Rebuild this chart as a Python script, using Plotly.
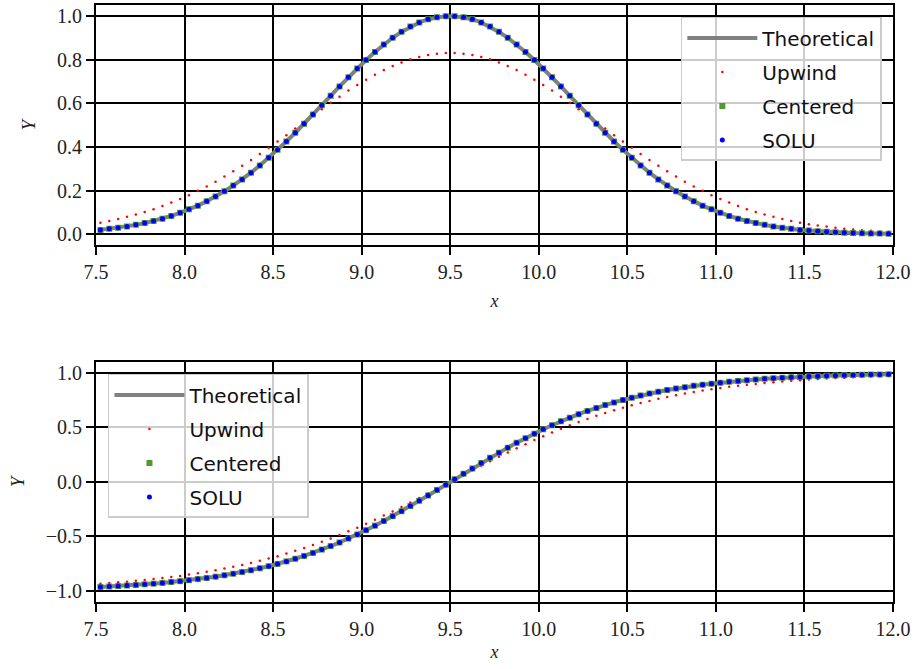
import numpy as np
import plotly.graph_objects as go
from plotly.subplots import make_subplots

# sample positions (cell centres, 0.05 apart)
x_pts = np.linspace(7.525, 11.975, 90)

# ---- top panel (pulse) ----
top_theoretical = [
    0.020, 0.025, 0.030, 0.036, 0.043, 0.051, 0.061, 0.071, 0.084, 0.098,
    0.114, 0.131, 0.151, 0.173, 0.197, 0.223, 0.251, 0.282, 0.315, 0.350,
    0.387, 0.425, 0.465, 0.506, 0.549, 0.591, 0.634, 0.677, 0.719, 0.759,
    0.798, 0.835, 0.869, 0.900, 0.927, 0.951, 0.970, 0.985, 0.994, 0.999,
    0.999, 0.994, 0.985, 0.970, 0.951, 0.927, 0.900, 0.869, 0.835, 0.798,
    0.759, 0.719, 0.677, 0.634, 0.591, 0.549, 0.506, 0.465, 0.425, 0.387,
    0.350, 0.315, 0.282, 0.251, 0.223, 0.197, 0.173, 0.151, 0.131, 0.114,
    0.098, 0.084, 0.071, 0.061, 0.051, 0.043, 0.036, 0.030, 0.025, 0.020,
    0.017, 0.014, 0.011, 0.009, 0.007, 0.006, 0.005, 0.004, 0.003, 0.002,
]
top_upwind = [
    0.053, 0.061, 0.070, 0.080, 0.090, 0.102, 0.115, 0.129, 0.145, 0.161,
    0.179, 0.199, 0.219, 0.241, 0.264, 0.289, 0.314, 0.340, 0.368, 0.396,
    0.425, 0.454, 0.484, 0.514, 0.544, 0.573, 0.602, 0.630, 0.658, 0.684,
    0.708, 0.731, 0.752, 0.771, 0.787, 0.801, 0.812, 0.821, 0.827, 0.830,
    0.830, 0.827, 0.821, 0.812, 0.801, 0.787, 0.771, 0.752, 0.731, 0.708,
    0.684, 0.658, 0.630, 0.602, 0.573, 0.544, 0.514, 0.484, 0.454, 0.425,
    0.396, 0.368, 0.340, 0.314, 0.289, 0.264, 0.241, 0.219, 0.199, 0.179,
    0.161, 0.145, 0.129, 0.115, 0.102, 0.090, 0.080, 0.070, 0.061, 0.053,
    0.046, 0.040, 0.035, 0.030, 0.025, 0.022, 0.018, 0.016, 0.013, 0.011,
]
top_centered = list(top_theoretical)
top_solu = list(top_theoretical)

# ---- bottom panel (step) ----
bot_theoretical = [
    -0.962, -0.958, -0.954, -0.949, -0.944, -0.938, -0.932, -0.925, -0.917, -0.909,
    -0.900, -0.890, -0.880, -0.868, -0.855, -0.841, -0.826, -0.809, -0.791, -0.772,
    -0.751, -0.728, -0.704, -0.678, -0.650, -0.620, -0.588, -0.555, -0.519, -0.482,
    -0.442, -0.401, -0.358, -0.314, -0.268, -0.221, -0.173, -0.124, -0.075, -0.025,
    0.025, 0.075, 0.124, 0.173, 0.221, 0.268, 0.314, 0.358, 0.401, 0.442,
    0.482, 0.519, 0.555, 0.588, 0.620, 0.650, 0.678, 0.704, 0.728, 0.751,
    0.772, 0.791, 0.809, 0.826, 0.841, 0.855, 0.868, 0.880, 0.890, 0.900,
    0.909, 0.917, 0.925, 0.932, 0.938, 0.944, 0.949, 0.954, 0.958, 0.962,
    0.965, 0.969, 0.972, 0.974, 0.977, 0.979, 0.981, 0.983, 0.984, 0.986,
]
bot_upwind = [
    -0.932, -0.927, -0.920, -0.914, -0.906, -0.898, -0.890, -0.881, -0.871, -0.861,
    -0.849, -0.837, -0.824, -0.810, -0.794, -0.778, -0.761, -0.742, -0.723, -0.702,
    -0.680, -0.656, -0.631, -0.605, -0.577, -0.548, -0.518, -0.486, -0.453, -0.419,
    -0.383, -0.346, -0.308, -0.270, -0.230, -0.189, -0.148, -0.106, -0.064, -0.021,
    0.021, 0.064, 0.106, 0.148, 0.189, 0.230, 0.270, 0.308, 0.346, 0.383,
    0.419, 0.453, 0.486, 0.518, 0.548, 0.577, 0.605, 0.631, 0.656, 0.680,
    0.702, 0.723, 0.742, 0.761, 0.778, 0.794, 0.810, 0.824, 0.837, 0.849,
    0.861, 0.871, 0.881, 0.890, 0.898, 0.906, 0.914, 0.920, 0.927, 0.932,
    0.938, 0.943, 0.947, 0.951, 0.955, 0.959, 0.962, 0.965, 0.968, 0.970,
]
bot_centered = list(bot_theoretical)
bot_solu = list(bot_theoretical)

# ---- ticks ----
x_tickvals = [7.5, 8.0, 8.5, 9.0, 9.5, 10.0, 10.5, 11.0, 11.5, 12.0]
x_ticktext = ["7.5", "8.0", "8.5", "9.0", "9.5", "10.0", "10.5", "11.0", "11.5", "12.0"]
top_tickvals = [0.0, 0.2, 0.4, 0.6, 0.8, 1.0]
top_ticktext = ["0.0", "0.2", "0.4", "0.6", "0.8", "1.0"]
bot_tickvals = [-1.0, -0.5, 0.0, 0.5, 1.0]
bot_ticktext = ["\u22121.0", "\u22120.5", "0.0", "0.5", "1.0"]

series_names = ["Theoretical", "Upwind", "Centered", "SOLU"]

fig = make_subplots(rows=2, cols=1, vertical_spacing=0.1954)

def add_panel(row, theo, up, cen, solu, legend):
    tag = str(row)
    fig.add_trace(go.Scatter(x=x_pts, y=theo, mode="lines", name=series_names[0],
                             legendgroup="t" + tag,
                             line=dict(color="#808080", width=4), legend=legend), row=row, col=1)
    fig.add_trace(go.Scatter(x=x_pts, y=up, mode="markers", name=series_names[1],
                             legendgroup="u" + tag,
                             marker=dict(color="#ff0000", size=2.5, symbol="circle"), legend=legend), row=row, col=1)
    fig.add_trace(go.Scatter(x=x_pts, y=cen, mode="markers", name=series_names[2],
                             legendgroup="c" + tag,
                             marker=dict(color="#519a30", size=6, symbol="square"), legend=legend), row=row, col=1)
    fig.add_trace(go.Scatter(x=x_pts, y=solu, mode="markers", name=series_names[3],
                             legendgroup="s" + tag,
                             marker=dict(color="#0000ff", size=5, symbol="circle"), legend=legend), row=row, col=1)

add_panel(1, top_theoretical, top_upwind, top_centered, top_solu, "legend")
add_panel(2, bot_theoretical, bot_upwind, bot_centered, bot_solu, "legend2")

serif = "Liberation Serif"
axis_common = dict(showline=True, linecolor="black", linewidth=2, mirror=True,
                   showgrid=True, gridcolor="black", gridwidth=1.6,
                   ticks="outside", ticklen=8, tickwidth=1.6, tickcolor="black",
                   zeroline=False, tickfont=dict(family=serif, size=20, color="#222"))

fig.update_xaxes(range=[7.5, 12.0], tickvals=x_tickvals, ticktext=x_ticktext,
                 title=dict(text="<i>x</i>", font=dict(family=serif, size=18, color="#222"), standoff=12),
                 row=1, col=1, **axis_common)
fig.update_xaxes(range=[7.5, 12.0], tickvals=x_tickvals, ticktext=x_ticktext,
                 title=dict(text="<i>x</i>", font=dict(family=serif, size=18, color="#222"), standoff=6),
                 row=2, col=1, **axis_common)
fig.update_yaxes(range=[-0.05, 1.05], tickvals=top_tickvals, ticktext=top_ticktext,
                 title=dict(text="<i>Y</i>", font=dict(family=serif, size=19, color="#222"), standoff=16),
                 row=1, col=1, **axis_common)
fig.update_yaxes(range=[-1.1, 1.1], tickvals=bot_tickvals, ticktext=bot_ticktext,
                 title=dict(text="<i>Y</i>", font=dict(family=serif, size=19, color="#222"), standoff=16),
                 row=2, col=1, **axis_common)

legend_common = dict(bgcolor="rgba(255,255,255,0.8)", bordercolor="#cccccc", borderwidth=1.5,
                     font=dict(family="DejaVu Sans", size=20, color="#111"),
                     tracegroupgap=5, itemwidth=70)

fig.update_layout(
    width=915, height=669,
    margin=dict(l=96, r=22, t=3, b=67),
    plot_bgcolor="white", paper_bgcolor="white",
    showlegend=True,
    legend=dict(x=0.986, y=0.980, xanchor="right", yanchor="top", **legend_common),
    legend2=dict(x=0.015, y=0.382, xanchor="left", yanchor="top", **legend_common),
)

fig.write_html("out.html")
